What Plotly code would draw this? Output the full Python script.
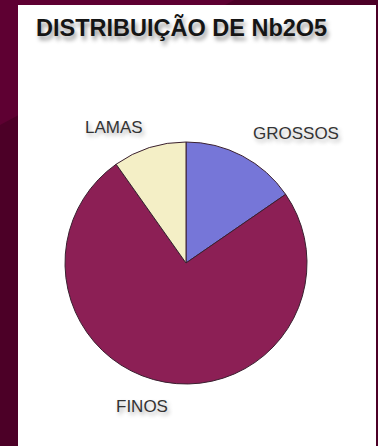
import plotly.graph_objects as go

# Nb2O5 distribution by size fraction (share of total, %)
categories = ["GROSSOS", "FINOS", "LAMAS"]
shares = [15.4, 74.8, 9.8]
slice_colors = ["#7676d8", "#8c1f55", "#f4efc6"]

# label anchor points (paper fraction) for each category
label_x = [296 / 378, 142 / 378, 114 / 378]
label_y = [1 - 133 / 446, 1 - 406 / 446, 1 - 127 / 446]

W, H = 378, 446

fig = go.Figure()
fig.add_trace(go.Pie(
    labels=categories,
    values=shares,
    sort=False,
    direction="clockwise",
    rotation=0,
    textinfo="none",
    hoverinfo="label+percent",
    marker=dict(colors=slice_colors, line=dict(color="#3a2030", width=1)),
    domain=dict(x=[65 / W, 307 / W], y=[1 - 384 / H, 1 - 142 / H]),
    showlegend=False,
))

shapes = [
    # lighter band of the dark backdrop
    dict(type="path", xref="paper", yref="paper",
         path="M 0 1 L 0.62 1 L 0 0.72 Z",
         fillcolor="#5e0032", line=dict(width=0), layer="below"),
    # white card behind the chart
    dict(type="rect", xref="paper", yref="paper",
         x0=18 / W, x1=376 / W, y0=0, y1=1 - 5 / H,
         fillcolor="#ffffff", line=dict(width=0), layer="below"),
]

annotations = [
    dict(text="DISTRIBUIÇÃO DE Nb2O5", xref="paper", yref="paper",
         x=34 / W, y=1 - 28 / H, xanchor="left", yanchor="middle",
         showarrow=False,
         font=dict(family="Arial, Liberation Sans", size=23.5, color="#151515",
                   weight="bold", shadow="2px 4px 4px #9a9a9a")),
]
for name, lx, ly in zip(categories, label_x, label_y):
    annotations.append(dict(
        text=name, xref="paper", yref="paper", x=lx, y=ly,
        xanchor="center", yanchor="middle", showarrow=False,
        font=dict(family="Arial, Liberation Sans", size=17, color="#333333",
                  shadow="2px 3px 4px #b0b0b0"),
    ))

fig.update_layout(
    width=W, height=H,
    margin=dict(l=0, r=0, t=0, b=0),
    paper_bgcolor="#4c0027",
    plot_bgcolor="#ffffff",
    shapes=shapes,
    annotations=annotations,
)

fig.write_html("out.html", config={"displayModeBar": False})
